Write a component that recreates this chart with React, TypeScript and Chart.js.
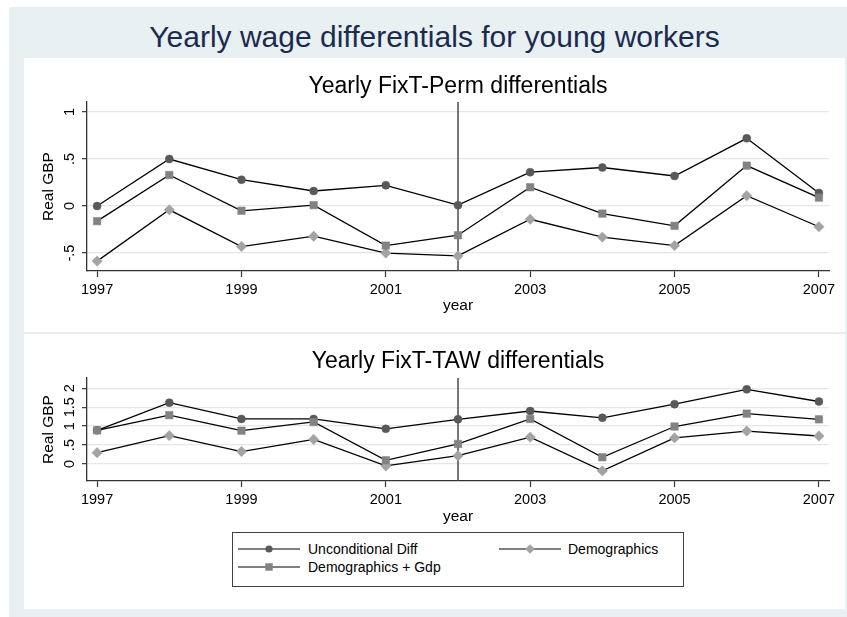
import React, { useEffect, useRef } from "react";
import { Chart, registerables } from "chart.js";

Chart.register(...registerables);

// ---------- data ----------
const years = [1997, 1998, 1999, 2000, 2001, 2002, 2003, 2004, 2005, 2006, 2007];
const xTickYears = [1997, 1999, 2001, 2003, 2005, 2007];
const breakYear = 2002;

const permUncond = [0.0, 0.5, 0.28, 0.16, 0.22, 0.01, 0.36, 0.41, 0.32, 0.72, 0.14];
const permDemo = [-0.585, -0.04, -0.43, -0.32, -0.5, -0.53, -0.14, -0.33, -0.42, 0.11, -0.22];
const permDemoGdp = [-0.16, 0.33, -0.05, 0.01, -0.42, -0.31, 0.2, -0.08, -0.21, 0.43, 0.09];

const tawUncond = [0.89, 1.62, 1.19, 1.19, 0.93, 1.18, 1.4, 1.22, 1.58, 1.97, 1.65];
const tawDemo = [0.3, 0.75, 0.33, 0.65, -0.05, 0.22, 0.71, -0.18, 0.69, 0.87, 0.74];
const tawDemoGdp = [0.89, 1.29, 0.88, 1.11, 0.1, 0.53, 1.19, 0.18, 0.99, 1.33, 1.18];

const permYTicks = [-0.5, 0, 0.5, 1];
const permYLabels = ["-.5", "0", ".5", "1"];
const tawYTicks = [0, 0.5, 1, 1.5, 2];
const tawYLabels = ["0", ".5", "1", "1.5", "2"];

const mainTitle = "Yearly wage differentials for young workers";
const permTitle = "Yearly FixT-Perm differentials";
const tawTitle = "Yearly FixT-TAW differentials";
const xTitle = "year";
const yTitle = "Real GBP";
const legendLabels = ["Unconditional Diff", "Demographics", "Demographics + Gdp"];

// ---------- styles ----------
const FONT = "'Liberation Sans', Arial, Helvetica, sans-serif";
const C_UNCOND = "#595959";
const C_DEMO = "#a3a3a3";
const C_GDP = "#828282";
const AXIS = "#333333";
const GRID = "#e6e6e6";
const SUB_SIZE = 23;
const TICK_SIZE = 14.5;
const AXT_SIZE = 15.5;

Chart.defaults.font.family = FONT;

const customPlugin = {
  id: "custom",
  beforeDatasetsDraw(chart: any, _args: any, opts: any) {
    const { ctx, chartArea, scales } = chart;
    const px = scales.x.getPixelForValue(opts.breakYear);
    ctx.save();
    ctx.strokeStyle = "#4a4a4a";
    ctx.lineWidth = 1.5;
    ctx.beginPath();
    ctx.moveTo(px, chartArea.top);
    ctx.lineTo(px, chartArea.bottom);
    ctx.stroke();
    ctx.restore();
  },
  afterDraw(chart: any, _args: any, opts: any) {
    const { ctx, scales } = chart;
    const y = scales.y;
    ctx.save();
    ctx.fillStyle = "#000";
    ctx.font = `${TICK_SIZE}px ${FONT}`;
    ctx.textAlign = "center";
    ctx.textBaseline = "middle";
    (opts.ticks as number[]).forEach((v, i) => {
      const py = y.getPixelForValue(v);
      ctx.save();
      ctx.translate(opts.labelX, py);
      ctx.rotate(-Math.PI / 2);
      ctx.fillText(opts.labels[i], 0, 0);
      ctx.restore();
    });
    ctx.restore();
  },
};

type Cfg = {
  title: string;
  uncond: number[];
  demo: number[];
  gdp: number[];
  yMin: number;
  yMax: number;
  yTicks: number[];
  yLabels: string[];
  width: number;
  height: number;
  chartLeft: number;
  chartRight: number;
  chartTop: number;
  chartBottom: number;
  titleCenter: number;
  yearCenter: number;
};

function pts(arr: number[]) {
  return years.map((yr, i) => ({ x: yr, y: arr[i] }));
}

function makeChart(canvas: HTMLCanvasElement, c: Cfg) {
  const titleLH = SUB_SIZE * 1.2;
  const tPadTop = c.titleCenter - titleLH / 2;
  const tPadBottom = c.chartTop - tPadTop - titleLH;
  const xAxisH = c.height - c.chartBottom;
  const yearPad = c.height - c.yearCenter - (AXT_SIZE * 1.2) / 2;
  const tickLH = TICK_SIZE * 1.2;
  const xTickPad = 19 - 6 - tickLH / 2;
  return new Chart(canvas, {
    type: "line",
    data: {
      datasets: [
        {
          label: legendLabels[2],
          data: pts(c.gdp),
          borderColor: "#000",
          borderWidth: 1.3,
          pointStyle: "rect",
          pointRadius: 5.3,
          pointBackgroundColor: C_GDP,
          pointBorderColor: C_GDP,
          pointBorderWidth: 0.5,
          tension: 0,
          fill: false,
        },
        {
          label: legendLabels[1],
          data: pts(c.demo),
          borderColor: "#000",
          borderWidth: 1.3,
          pointStyle: "rectRot",
          pointRadius: 5.2,
          pointBackgroundColor: C_DEMO,
          pointBorderColor: C_DEMO,
          pointBorderWidth: 0.5,
          tension: 0,
          fill: false,
        },
        {
          label: legendLabels[0],
          data: pts(c.uncond),
          borderColor: "#000",
          borderWidth: 1.3,
          pointStyle: "circle",
          pointRadius: 4,
          pointBackgroundColor: C_UNCOND,
          pointBorderColor: C_UNCOND,
          pointBorderWidth: 0.5,
          tension: 0,
          fill: false,
        },
      ],
    },
    options: {
      animation: false,
      responsive: false,
      devicePixelRatio: 1,
      events: [],
      layout: { padding: { left: 0, right: c.width - c.chartRight, top: 0, bottom: 0 } },
      plugins: {
        legend: { display: false },
        tooltip: { enabled: false },
        title: {
          display: true,
          text: c.title,
          fullSize: false,
          color: "#000",
          font: { size: SUB_SIZE, weight: "normal", family: FONT, lineHeight: 1.2 },
          padding: { top: tPadTop, bottom: tPadBottom },
        },
        custom: {
          breakYear,
          ticks: c.yTicks,
          labels: c.yLabels,
          labelX: 46,
        },
      } as any,
      scales: {
        x: {
          type: "linear",
          min: 1996.86,
          max: 2007.14,
          afterBuildTicks: (s: any) => {
            s.ticks = xTickYears.map((v) => ({ value: v }));
          },
          afterFit: (s: any) => {
            s.height = xAxisH;
          },
          ticks: {
            color: "#000",
            font: { size: TICK_SIZE, family: FONT, lineHeight: 1.2 },
            padding: xTickPad,
            maxRotation: 0,
            autoSkip: false,
            callback: (v: any) => String(v),
          },
          grid: {
            drawOnChartArea: false,
            drawTicks: true,
            tickLength: 6,
            tickColor: AXIS,
            tickWidth: 1.2,
          },
          border: { color: AXIS, width: 1.3 },
          title: {
            display: true,
            text: xTitle,
            color: "#000",
            font: { size: AXT_SIZE, family: FONT, lineHeight: 1.2 },
            padding: { top: 0, bottom: yearPad },
          },
        },
        y: {
          type: "linear",
          min: c.yMin,
          max: c.yMax,
          afterBuildTicks: (s: any) => {
            s.ticks = c.yTicks.map((v) => ({ value: v }));
          },
          afterFit: (s: any) => {
            s.width = c.chartLeft;
          },
          ticks: { display: false },
          grid: {
            color: GRID,
            lineWidth: 1.3,
            drawTicks: true,
            tickLength: 5,
            tickColor: AXIS,
            tickWidth: 1.2,
          },
          border: { color: AXIS, width: 1.3 },
          title: {
            display: true,
            text: yTitle,
            color: "#000",
            font: { size: AXT_SIZE, family: FONT, lineHeight: 1.2 },
            padding: { top: 24.5 - (AXT_SIZE * 1.2) / 2, bottom: 0 },
          },
        },
      },
    },
    plugins: [customPlugin],
  } as any);
}

function LegendSymbol({ kind }: { kind: "circle" | "square" | "diamond" }) {
  return (
    <svg width={64} height={12} style={{ position: "absolute", left: 0, top: -6 }}>
      <line x1={0} y1={6} x2={62} y2={6} stroke="#000" strokeWidth={1.2} />
      {kind === "circle" && <circle cx={31} cy={6} r={3.6} fill={C_UNCOND} />}
      {kind === "square" && <rect x={27.3} y={2.3} width={7.4} height={7.4} fill={C_GDP} />}
      {kind === "diamond" && <polygon points="31,1.2 35.8,6 31,10.8 26.2,6" fill={C_DEMO} />}
    </svg>
  );
}

export default function App() {
  const topRef = useRef<HTMLCanvasElement>(null);
  const botRef = useRef<HTMLCanvasElement>(null);

  useEffect(() => {
    const top = makeChart(topRef.current!, {
      title: permTitle,
      uncond: permUncond,
      demo: permDemo,
      gdp: permDemoGdp,
      yMin: -0.69,
      yMax: 1.106,
      yTicks: permYTicks,
      yLabels: permYLabels,
      width: 821,
      height: 275,
      chartLeft: 63,
      chartRight: 805,
      chartTop: 44,
      chartBottom: 213,
      titleCenter: 29,
      yearCenter: 248,
    });
    const bot = makeChart(botRef.current!, {
      title: tawTitle,
      uncond: tawUncond,
      demo: tawDemo,
      gdp: tawDemoGdp,
      yMin: -0.447,
      yMax: 2.27,
      yTicks: tawYTicks,
      yLabels: tawYLabels,
      width: 821,
      height: 195,
      chartLeft: 63,
      chartRight: 805,
      chartTop: 43,
      chartBottom: 146,
      titleCenter: 27,
      yearCenter: 182,
    });
    return () => {
      top.destroy();
      bot.destroy();
    };
  }, []);

  const textStyle: React.CSSProperties = {
    position: "absolute",
    fontFamily: FONT,
    fontSize: 14,
    lineHeight: "17px",
    color: "#000",
    whiteSpace: "nowrap",
  };

  return (
    <div style={{ position: "absolute", left: 0, top: 0, width: 847, height: 617, background: "#fff", overflow: "hidden" }}>
      <div style={{ position: "absolute", left: 9, top: 7, width: 838, height: 610, background: "#e9f0f2" }} />
      <div
        style={{
          position: "absolute",
          left: 24,
          top: 19,
          width: 821,
          textAlign: "center",
          fontFamily: FONT,
          fontSize: 30,
          lineHeight: "35px",
          color: "#1b2b4f",
          whiteSpace: "nowrap",
        }}
      >
        {mainTitle}
      </div>
      <div style={{ position: "absolute", left: 24, top: 58, width: 821, height: 551, background: "#fff" }} />
      <div style={{ position: "absolute", left: 24, top: 332, width: 821, height: 2, background: "#ececec" }} />
      <canvas ref={topRef} width={821} height={275} style={{ position: "absolute", left: 24, top: 58, width: 821, height: 275 }} />
      <canvas ref={botRef} width={821} height={195} style={{ position: "absolute", left: 24, top: 335, width: 821, height: 195 }} />
      <div
        style={{
          position: "absolute",
          left: 232,
          top: 532,
          width: 450,
          height: 53,
          border: "1px solid #404040",
          background: "#fff",
        }}
      >
        <div style={{ position: "absolute", left: 5, top: 16 }}>
          <LegendSymbol kind="circle" />
        </div>
        <div style={{ ...textStyle, left: 75, top: 8 }}>{legendLabels[0]}</div>
        <div style={{ position: "absolute", left: 266, top: 16 }}>
          <LegendSymbol kind="diamond" />
        </div>
        <div style={{ ...textStyle, left: 335, top: 8 }}>{legendLabels[1]}</div>
        <div style={{ position: "absolute", left: 5, top: 34 }}>
          <LegendSymbol kind="square" />
        </div>
        <div style={{ ...textStyle, left: 75, top: 26 }}>{legendLabels[2]}</div>
      </div>
    </div>
  );
}
